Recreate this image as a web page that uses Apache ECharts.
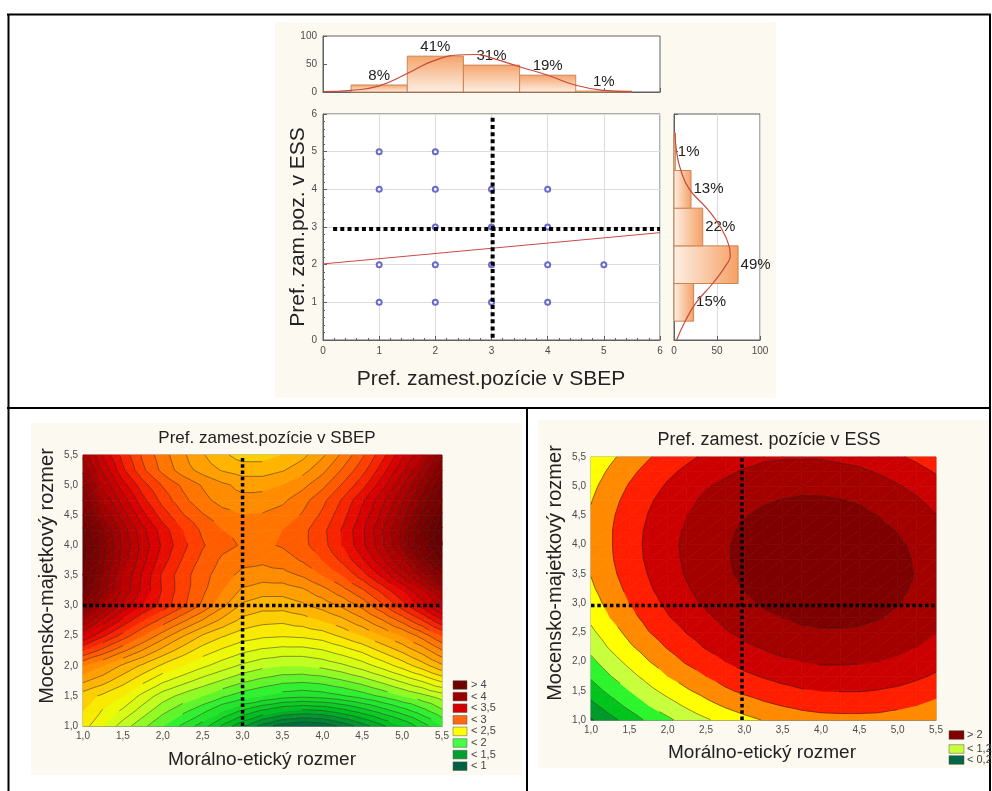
<!DOCTYPE html>
<html>
<head>
<meta charset="utf-8">
<title>Pref. zamest.pozície</title>
<script src="https://cdn.jsdelivr.net/npm/echarts@6/dist/echarts.min.js"></script>
<style>
    html, body { margin: 0; padding: 0; background: #fff; }
    #main { width: 992px; height: 791px; }
</style>
</head>
<body>
<div id="main"></div>
<script>
var FONT = "'Liberation Sans', Arial, sans-serif";

// --- top: SBEP vs ESS scatter with marginal histograms ---
var sbepValues = [1, 2, 3, 4, 5];
var sbepCounts = [12.5, 64, 48, 30, 1.6];
var sbepLabels = ['8%', '41%', '31%', '19%', '1%'];
var sbepCurveX = [0, 0.5, 1, 1.5, 2, 2.5, 2.75, 3, 3.5, 4, 4.5, 5, 5.5];
var sbepCurveY = [0.8, 3, 11, 33, 57, 66.5, 67, 61, 45, 30, 12, 3, 0.4];

var essValues = [1, 2, 3, 4, 5];
var essCounts = [22.8, 74.5, 33.4, 19.8, 1.5];
var essLabels = ['15%', '49%', '22%', '13%', '1%'];
var essCurveY = [0, 0.5, 1, 1.5, 2, 2.25, 2.5, 3, 3.5, 4, 4.5, 5, 5.5];
var essCurveX = [3, 13, 26, 45, 61, 65.5, 64, 54, 38, 18, 8, 3, 1];

var scatterPoints = [[1, 5], [2, 5], [1, 4], [2, 4], [3, 4], [4, 4], [2, 3], [3, 3], [4, 3],
    [1, 2], [2, 2], [3, 2], [4, 2], [5, 2], [1, 1], [2, 1], [3, 1], [4, 1]];
var fitLine = [[0, 2.02], [6, 2.85]];
var scatterCutV = [[3.02, 0.06], [3.02, 5.95]];
var scatterCutH = [[0.18, 2.95], [6, 2.95]];

// --- bottom: fitted surfaces, x = Morálno-etický, y = Mocensko-majetkový ---
var gridSteps = [1, 1.25, 1.5, 1.75, 2, 2.25, 2.5, 2.75, 3, 3.25, 3.5, 3.75, 4, 4.25, 4.5, 4.75, 5, 5.25, 5.5];

// rows go from y = 1.0 (first) to y = 5.5 (last)
var sbepSurface = [
    [2.35, 2.20, 2.05, 1.93, 1.80, 1.68, 1.55, 1.38, 1.22, 1.06, 0.95, 0.90, 0.93, 1.03, 1.15, 1.28, 1.40, 1.55, 1.70],
    [2.40, 2.29, 2.18, 2.05, 1.93, 1.83, 1.73, 1.60, 1.48, 1.38, 1.30, 1.27, 1.29, 1.36, 1.45, 1.55, 1.65, 1.76, 1.88],
    [2.45, 2.38, 2.30, 2.17, 2.05, 1.97, 1.90, 1.82, 1.75, 1.70, 1.65, 1.63, 1.65, 1.69, 1.75, 1.82, 1.90, 1.97, 2.05],
    [2.62, 2.54, 2.44, 2.33, 2.22, 2.14, 2.06, 1.99, 1.92, 1.87, 1.83, 1.82, 1.84, 1.89, 1.95, 2.03, 2.12, 2.21, 2.32],
    [2.80, 2.70, 2.58, 2.48, 2.38, 2.30, 2.22, 2.15, 2.08, 2.03, 2.00, 2.00, 2.03, 2.08, 2.15, 2.24, 2.34, 2.45, 2.58],
    [3.10, 2.96, 2.82, 2.69, 2.56, 2.45, 2.35, 2.28, 2.22, 2.18, 2.16, 2.16, 2.19, 2.25, 2.32, 2.42, 2.52, 2.64, 2.79],
    [3.40, 3.22, 3.06, 2.90, 2.75, 2.61, 2.49, 2.41, 2.35, 2.32, 2.31, 2.32, 2.35, 2.42, 2.50, 2.60, 2.70, 2.84, 3.00],
    [3.70, 3.46, 3.27, 3.10, 2.96, 2.82, 2.69, 2.57, 2.47, 2.43, 2.42, 2.45, 2.50, 2.57, 2.67, 2.79, 2.93, 3.09, 3.28],
    [4.00, 3.70, 3.47, 3.30, 3.16, 3.02, 2.88, 2.72, 2.58, 2.54, 2.54, 2.58, 2.64, 2.72, 2.83, 2.98, 3.15, 3.33, 3.55],
    [4.15, 3.85, 3.58, 3.37, 3.19, 3.04, 2.92, 2.80, 2.68, 2.64, 2.64, 2.68, 2.76, 2.86, 2.98, 3.13, 3.30, 3.50, 3.72],
    [4.20, 3.88, 3.60, 3.38, 3.18, 3.04, 2.94, 2.84, 2.77, 2.75, 2.76, 2.81, 2.90, 3.00, 3.15, 3.32, 3.52, 3.74, 4.00],
    [4.25, 3.93, 3.66, 3.43, 3.24, 3.09, 2.97, 2.88, 2.83, 2.82, 2.85, 2.91, 3.00, 3.12, 3.28, 3.47, 3.70, 3.95, 4.25],
    [4.25, 3.95, 3.68, 3.46, 3.28, 3.13, 3.01, 2.93, 2.89, 2.88, 2.91, 2.97, 3.06, 3.20, 3.37, 3.58, 3.82, 4.10, 4.40],
    [4.22, 3.92, 3.65, 3.43, 3.25, 3.10, 2.98, 2.90, 2.87, 2.87, 2.90, 2.97, 3.07, 3.21, 3.38, 3.59, 3.83, 4.12, 4.42],
    [4.10, 3.80, 3.55, 3.33, 3.15, 3.01, 2.91, 2.84, 2.80, 2.81, 2.84, 2.91, 3.02, 3.16, 3.33, 3.53, 3.75, 4.02, 4.32],
    [4.00, 3.70, 3.45, 3.23, 3.06, 2.93, 2.83, 2.76, 2.73, 2.74, 2.78, 2.86, 2.97, 3.11, 3.28, 3.47, 3.68, 3.93, 4.20],
    [3.88, 3.60, 3.34, 3.14, 2.99, 2.88, 2.79, 2.72, 2.67, 2.67, 2.70, 2.77, 2.87, 3.01, 3.16, 3.36, 3.58, 3.84, 4.12],
    [3.78, 3.48, 3.22, 3.02, 2.87, 2.75, 2.66, 2.59, 2.55, 2.55, 2.59, 2.66, 2.77, 2.91, 3.06, 3.25, 3.47, 3.72, 4.00],
    [3.68, 3.38, 3.16, 2.98, 2.84, 2.72, 2.61, 2.52, 2.46, 2.46, 2.50, 2.57, 2.68, 2.82, 2.98, 3.16, 3.37, 3.60, 3.88]
];

var essSurface = [
    [0.22, 0.42, 0.61, 0.80, 0.95, 1.10, 1.22, 1.34, 1.43, 1.51, 1.57, 1.63, 1.66, 1.67, 1.67, 1.66, 1.63, 1.58, 1.52],
    [0.43, 0.63, 0.82, 1.00, 1.15, 1.29, 1.42, 1.53, 1.62, 1.70, 1.76, 1.81, 1.84, 1.85, 1.85, 1.84, 1.80, 1.75, 1.68],
    [0.62, 0.82, 1.00, 1.18, 1.33, 1.47, 1.59, 1.71, 1.80, 1.87, 1.93, 1.98, 2.00, 2.01, 2.01, 1.99, 1.96, 1.90, 1.83],
    [0.79, 0.99, 1.17, 1.34, 1.50, 1.63, 1.75, 1.86, 1.95, 2.02, 2.08, 2.12, 2.15, 2.16, 2.15, 2.13, 2.09, 2.04, 1.97],
    [0.94, 1.14, 1.32, 1.49, 1.64, 1.78, 1.89, 2.00, 2.09, 2.16, 2.21, 2.25, 2.28, 2.28, 2.27, 2.25, 2.21, 2.15, 2.08],
    [1.08, 1.28, 1.46, 1.62, 1.77, 1.90, 2.02, 2.12, 2.21, 2.27, 2.33, 2.37, 2.39, 2.39, 2.38, 2.36, 2.31, 2.25, 2.18],
    [1.20, 1.39, 1.57, 1.74, 1.88, 2.01, 2.12, 2.23, 2.31, 2.37, 2.42, 2.46, 2.48, 2.48, 2.47, 2.44, 2.40, 2.33, 2.26],
    [1.30, 1.50, 1.67, 1.83, 1.98, 2.10, 2.21, 2.31, 2.39, 2.46, 2.50, 2.54, 2.55, 2.55, 2.54, 2.51, 2.46, 2.40, 2.32],
    [1.39, 1.58, 1.75, 1.91, 2.05, 2.18, 2.29, 2.38, 2.46, 2.52, 2.57, 2.60, 2.61, 2.61, 2.59, 2.56, 2.51, 2.44, 2.36],
    [1.46, 1.64, 1.81, 1.97, 2.11, 2.23, 2.34, 2.43, 2.51, 2.57, 2.61, 2.64, 2.65, 2.65, 2.63, 2.59, 2.54, 2.47, 2.39],
    [1.51, 1.69, 1.86, 2.01, 2.15, 2.27, 2.38, 2.47, 2.54, 2.60, 2.64, 2.67, 2.67, 2.67, 2.65, 2.61, 2.55, 2.49, 2.40],
    [1.54, 1.72, 1.89, 2.04, 2.17, 2.29, 2.40, 2.48, 2.55, 2.61, 2.65, 2.67, 2.68, 2.67, 2.65, 2.61, 2.55, 2.48, 2.39],
    [1.55, 1.73, 1.90, 2.05, 2.18, 2.30, 2.40, 2.48, 2.55, 2.60, 2.64, 2.66, 2.67, 2.66, 2.63, 2.59, 2.53, 2.46, 2.37],
    [1.55, 1.73, 1.89, 2.04, 2.17, 2.28, 2.38, 2.46, 2.53, 2.58, 2.62, 2.63, 2.64, 2.63, 2.60, 2.55, 2.49, 2.41, 2.32],
    [1.53, 1.71, 1.87, 2.01, 2.14, 2.25, 2.35, 2.43, 2.49, 2.54, 2.57, 2.59, 2.59, 2.58, 2.55, 2.50, 2.43, 2.36, 2.26],
    [1.49, 1.67, 1.83, 1.97, 2.09, 2.20, 2.30, 2.37, 2.44, 2.48, 2.51, 2.53, 2.53, 2.51, 2.48, 2.43, 2.36, 2.28, 2.18],
    [1.44, 1.61, 1.77, 1.90, 2.03, 2.14, 2.23, 2.30, 2.36, 2.41, 2.44, 2.45, 2.44, 2.42, 2.39, 2.34, 2.27, 2.19, 2.09],
    [1.37, 1.54, 1.69, 1.83, 1.95, 2.05, 2.14, 2.21, 2.27, 2.32, 2.34, 2.35, 2.34, 2.32, 2.29, 2.23, 2.16, 2.08, 1.98],
    [1.28, 1.45, 1.60, 1.73, 1.85, 1.95, 2.04, 2.11, 2.17, 2.21, 2.23, 2.23, 2.23, 2.20, 2.17, 2.11, 2.03, 1.95, 1.85]
];

// colour ramp of the left map (value -> colour), fine contour step 0.1
var sbepStops = [0.9, 1.35, 1.75, 2.05, 2.3, 2.55, 2.75, 2.9, 3.1, 3.3, 3.5, 3.75, 4.0, 4.4];
var sbepStopColors = ['#006040', '#00c020', '#30f030', '#c0ff20', '#f8f800', '#ffb400', '#ff8c00',
    '#ff6a00', '#ff3000', '#e00000', '#c00000', '#a00000', '#800000', '#600000'];
var sbepLegend = ['> 4', '< 4', '< 3,5', '< 3', '< 2,5', '< 2', '< 1,5', '< 1'];
var sbepLegendColors = ['#6e0000', '#990000', '#d40000', '#ff6a10', '#ffff00', '#44ff44', '#00a030', '#006040'];

var essLevels = [0.25, 0.5, 0.75, 1, 1.25, 1.5, 1.75, 2, 2.25, 2.5];
var essColors = ['#006646', '#009a2a', '#00c41c', '#2cf52c', '#c8ff3c', '#ffff00', '#ff8a00',
    '#ff1e00', '#cc0000', '#a30000', '#7f0000'];
var essLegend = ['> 2', '< 1,25', '< 0,25'];
var essLegendColors = ['#7f0000', '#c8ff3c', '#006646'];

var leftCutV = [[3.0, 1.0], [3.0, 5.5]];
var leftCutH = [[1.0, 3.0], [5.5, 3.0]];
var rightCutV = [[2.97, 1.0], [2.97, 5.5]];
var rightCutH = [[1.0, 2.96], [5.5, 2.96]];

function hexRgb(h) {
    return [parseInt(h.substr(1, 2), 16), parseInt(h.substr(3, 2), 16), parseInt(h.substr(5, 2), 16)];
}

function rampColor(v) {
    var n = sbepStops.length;
    if (v <= sbepStops[0]) return sbepStopColors[0];
    if (v >= sbepStops[n - 1]) return sbepStopColors[n - 1];
    for (var i = 1; i < n; i++) {
        if (v <= sbepStops[i]) {
            var t = (v - sbepStops[i - 1]) / (sbepStops[i] - sbepStops[i - 1]);
            var a = hexRgb(sbepStopColors[i - 1]), b = hexRgb(sbepStopColors[i]);
            return 'rgb(' + Math.round(a[0] + t * (b[0] - a[0])) + ',' + Math.round(a[1] + t * (b[1] - a[1])) +
                ',' + Math.round(a[2] + t * (b[2] - a[2])) + ')';
        }
    }
}

var sbepLevels = [];
for (var q = 9; q <= 44; q++) sbepLevels.push(q / 10);
var sbepBandColors = [];
for (var b = 0; b <= sbepLevels.length; b++) {
    var lo = b === 0 ? sbepLevels[0] - 0.1 : sbepLevels[b - 1];
    var hi = b === sbepLevels.length ? lo + 0.1 : sbepLevels[b];
    sbepBandColors.push(rampColor((lo + hi) / 2));
}

// one data item per grid cell: corners + four node values
function buildCells(rows) {
    var out = [];
    for (var j = 0; j < rows.length - 1; j++) {
        for (var i = 0; i < rows[j].length - 1; i++) {
            out.push([gridSteps[i], gridSteps[j], gridSteps[i + 1], gridSteps[j + 1],
                rows[j][i], rows[j][i + 1], rows[j + 1][i], rows[j + 1][i + 1]]);
        }
    }
    return out;
}

function clipPoly(poly, level, above) {
    var out = [];
    for (var i = 0; i < poly.length; i++) {
        var a = poly[i], c = poly[(i + 1) % poly.length];
        var ina = above ? a[2] >= level : a[2] <= level;
        var inc = above ? c[2] >= level : c[2] <= level;
        if (ina) out.push(a);
        if (ina !== inc) {
            var t = (level - a[2]) / (c[2] - a[2]);
            out.push([a[0] + t * (c[0] - a[0]), a[1] + t * (c[1] - a[1]), level]);
        }
    }
    return out;
}

// filled contour bands + contour lines, drawn per cell
function surfaceRenderer(levels, bandColors, lineStyle) {
    return function (params, api) {
        var x0 = api.value(0), y0 = api.value(1), x1 = api.value(2), y1 = api.value(3);
        var p00 = [x0, y0, api.value(4)], p10 = [x1, y0, api.value(5)];
        var p01 = [x0, y1, api.value(6)], p11 = [x1, y1, api.value(7)];
        var tris = [[p00, p10, p11], [p00, p11, p01]];
        var children = [];
        var toPx = function (p) { return api.coord([p[0], p[1]]); };
        tris.forEach(function (tri) {
            var vmin = Math.min(tri[0][2], tri[1][2], tri[2][2]);
            var vmax = Math.max(tri[0][2], tri[1][2], tri[2][2]);
            for (var k = 0; k <= levels.length; k++) {
                var lo = k === 0 ? -Infinity : levels[k - 1];
                var hi = k === levels.length ? Infinity : levels[k];
                if (hi < vmin || lo > vmax) continue;
                var poly = tri;
                if (k > 0) poly = clipPoly(poly, lo, true);
                if (poly.length >= 3 && k < levels.length) poly = clipPoly(poly, hi, false);
                if (poly.length < 3) continue;
                children.push({
                    type: 'polygon', silent: true,
                    shape: { points: poly.map(toPx) },
                    style: { fill: bandColors[k], stroke: bandColors[k], lineWidth: 0.7 }
                });
            }
            levels.forEach(function (lv) {
                if (lv <= vmin || lv >= vmax) return;
                var pts = [];
                for (var e = 0; e < 3; e++) {
                    var a = tri[e], c = tri[(e + 1) % 3];
                    if ((a[2] - lv) * (c[2] - lv) < 0) {
                        var t = (lv - a[2]) / (c[2] - a[2]);
                        pts.push([a[0] + t * (c[0] - a[0]), a[1] + t * (c[1] - a[1])]);
                    }
                }
                if (pts.length === 2) {
                    var s = toPx(pts[0]), f = toPx(pts[1]);
                    children.push({
                        type: 'line', silent: true, z2: 10,
                        shape: { x1: s[0], y1: s[1], x2: f[0], y2: f[1] },
                        style: lineStyle
                    });
                }
            });
        });
        return { type: 'group', children: children };
    };
}

function commaLabel(v) {
    return v.toFixed(1).replace('.', ',');
}

function renderTopBar(params, api) {
    var v = api.value(0), c = api.value(1);
    var a = api.coord([v - 0.5, c]);
    var d = api.coord([v + 0.5, 0]);
    return {
        type: 'rect',
        shape: { x: a[0], y: a[1], width: d[0] - a[0], height: d[1] - a[1] },
        style: {
            fill: new echarts.graphic.LinearGradient(0, 0, 0, 1, [
                { offset: 0, color: '#f5a46b' }, { offset: 1, color: '#fdf0e5' }
            ]),
            stroke: '#c98655', lineWidth: 1
        },
        textContent: { style: { text: sbepLabels[params.dataIndex], fontSize: 15, fontFamily: FONT, fill: '#222' } },
        textConfig: { position: 'top', distance: 1 }
    };
}

function renderSideBar(params, api) {
    var v = api.value(1), c = api.value(0);
    var a = api.coord([0, v + 0.5]);
    var d = api.coord([c, v - 0.5]);
    return {
        type: 'rect',
        shape: { x: a[0], y: a[1], width: d[0] - a[0], height: d[1] - a[1] },
        style: {
            fill: new echarts.graphic.LinearGradient(0, 0, 1, 0, [
                { offset: 0, color: '#fdf0e5' }, { offset: 1, color: '#f5a064' }
            ]),
            stroke: '#c98655', lineWidth: 1
        },
        textContent: { style: { text: essLabels[params.dataIndex], fontSize: 15, fontFamily: FONT, fill: '#222' } },
        textConfig: { position: 'right', distance: 2 }
    };
}

function cutLine(xi, yi, data, w) {
    return {
        type: 'line', xAxisIndex: xi, yAxisIndex: yi, data: data, symbol: 'none', silent: true, z: 5,
        lineStyle: { color: '#000', width: w, type: [w, w * 0.8], cap: 'butt' }
    };
}

var tickLabel = { fontSize: 10, color: '#4a4a4a', fontFamily: FONT };
var frameLine = { lineStyle: { color: '#606060' } };

function topAxis(gi, min, max, interval, labels, split) {
    return {
        type: 'value', gridIndex: gi, min: min, max: max, interval: interval,
        axisLine: frameLine,
        axisTick: { inside: true, length: 4, lineStyle: { color: '#606060' } },
        axisLabel: Object.assign({ show: labels, margin: 6 }, tickLabel),
        splitLine: { show: split, lineStyle: { color: '#dcdcdc' } }
    };
}

function contourAxis(gi, pos) {
    return {
        type: 'value', gridIndex: gi, min: 1, max: 5.5, interval: 0.5, position: pos,
        axisLine: { lineStyle: { color: '#888' } },
        axisTick: { show: false },
        axisLabel: Object.assign({ formatter: commaLabel, margin: 5 }, tickLabel),
        splitLine: { show: false }
    };
}

function textEl(x, y, text, size, rot) {
    return {
        type: 'text', x: x, y: y, rotation: rot || 0,
        style: { text: text, fontSize: size, fontFamily: FONT, fill: '#222', align: 'center', verticalAlign: 'middle' }
    };
}

var frame = { stroke: '#000', lineWidth: 2 };
var graphics = [
    { type: 'rect', shape: { x: 275, y: 22, width: 501, height: 376 }, style: { fill: '#fcf9f0' }, z: -10 },
    { type: 'rect', shape: { x: 31, y: 423, width: 491, height: 352 }, style: { fill: '#fcf9f0' }, z: -10 },
    { type: 'rect', shape: { x: 538, y: 420, width: 454, height: 348 }, style: { fill: '#fcf9f0' }, z: -10 },
    { type: 'line', shape: { x1: 7, y1: 14.5, x2: 991, y2: 14.5 }, style: frame },
    { type: 'line', shape: { x1: 7, y1: 408, x2: 991, y2: 408 }, style: frame },
    { type: 'line', shape: { x1: 8.5, y1: 14, x2: 8.5, y2: 791 }, style: frame },
    { type: 'line', shape: { x1: 990, y1: 14, x2: 990, y2: 791 }, style: frame },
    { type: 'line', shape: { x1: 527, y1: 408, x2: 527, y2: 791 }, style: frame },
    textEl(298, 227, 'Pref. zam.poz. v ESS', 21, Math.PI / 2),
    textEl(491, 379, 'Pref. zamest.pozície v SBEP', 21),
    textEl(267, 438, 'Pref. zamest.pozície v SBEP', 17),
    textEl(769, 440, 'Pref. zamest. pozície v ESS', 18),
    textEl(47, 576, 'Mocensko-majetkový rozmer', 20, Math.PI / 2),
    textEl(555, 573, 'Mocensko-majetkový rozmer', 20, Math.PI / 2),
    textEl(262, 760, 'Morálno-etický rozmer', 19),
    textEl(762, 753, 'Morálno-etický rozmer', 19)
];

for (var i = 0; i < sbepLegend.length; i++) {
    var cy = 685 + i * 11.6;
    graphics.push({ type: 'rect', shape: { x: 453, y: cy - 4.3, width: 14, height: 8.6 },
        style: { fill: sbepLegendColors[i], stroke: '#555', lineWidth: 0.5 } });
    graphics.push({ type: 'text', x: 471, y: cy,
        style: { text: sbepLegend[i], fontSize: 11, fontFamily: FONT, fill: '#444', verticalAlign: 'middle' } });
}
var essRows = [735, 749, 760];
for (var k = 0; k < essLegend.length; k++) {
    graphics.push({ type: 'rect', shape: { x: 949, y: essRows[k] - 4.3, width: 15, height: 8.6 },
        style: { fill: essLegendColors[k], stroke: '#555', lineWidth: 0.5 } });
    graphics.push({ type: 'text', x: 967, y: essRows[k],
        style: { text: essLegend[k], fontSize: 11, fontFamily: FONT, fill: '#444', verticalAlign: 'middle' } });
}

var option = {
    animation: false,
    backgroundColor: '#fff',
    textStyle: { fontFamily: FONT },
    grid: [
        { left: 323, top: 36, width: 337, height: 56, show: true, backgroundColor: '#fff', borderColor: '#606060' },
        { left: 323, top: 114, width: 337, height: 226, show: true, backgroundColor: '#fff', borderColor: '#606060' },
        { left: 674, top: 114, width: 86, height: 226, show: true, backgroundColor: '#fff', borderColor: '#606060' },
        { left: 83, top: 455, width: 359, height: 271, show: true, borderColor: '#888' },
        { left: 591, top: 457, width: 345, height: 263, show: true, borderColor: '#888' }
    ],
    xAxis: [
        topAxis(0, 0, 6, 1, false, false),
        Object.assign(topAxis(1, 0, 6, 1, true, true), { minorTick: { show: true, splitNumber: 5, length: 2 } }),
        topAxis(2, 0, 100, 50, true, true),
        contourAxis(3, 'bottom'),
        contourAxis(4, 'bottom')
    ],
    yAxis: [
        topAxis(0, 0, 100, 50, true, false),
        Object.assign(topAxis(1, 0, 6, 1, true, true), { minorTick: { show: true, splitNumber: 5, length: 2 } }),
        topAxis(2, 0, 6, 1, false, false),
        contourAxis(3, 'left'),
        contourAxis(4, 'left')
    ],
    series: [
        { type: 'custom', xAxisIndex: 0, yAxisIndex: 0, renderItem: renderTopBar,
            data: sbepValues.map(function (v, i) { return [v, sbepCounts[i]]; }) },
        { type: 'line', xAxisIndex: 0, yAxisIndex: 0, smooth: true, symbol: 'none', z: 4,
            lineStyle: { color: '#c84a3c', width: 1.2 },
            data: sbepCurveX.map(function (x, i) { return [x, sbepCurveY[i]]; }) },
        { type: 'scatter', xAxisIndex: 1, yAxisIndex: 1, symbol: 'emptyCircle', symbolSize: 5,
            itemStyle: { color: '#4646c0', borderWidth: 1 }, data: scatterPoints },
        { type: 'line', xAxisIndex: 1, yAxisIndex: 1, symbol: 'none', data: fitLine,
            lineStyle: { color: '#d04848', width: 1 } },
        cutLine(1, 1, scatterCutV, 4),
        cutLine(1, 1, scatterCutH, 4),
        { type: 'custom', xAxisIndex: 2, yAxisIndex: 2, renderItem: renderSideBar,
            data: essValues.map(function (v, i) { return [essCounts[i], v]; }) },
        { type: 'line', xAxisIndex: 2, yAxisIndex: 2, smooth: true, symbol: 'none', z: 4,
            lineStyle: { color: '#c84a3c', width: 1.2 },
            data: essCurveY.map(function (y, i) { return [essCurveX[i], y]; }) },
        { type: 'custom', xAxisIndex: 3, yAxisIndex: 3, silent: true,
            renderItem: surfaceRenderer(sbepLevels, sbepBandColors, { stroke: 'rgba(40,40,40,0.7)', lineWidth: 0.7 }),
            data: buildCells(sbepSurface) },
        cutLine(3, 3, leftCutV, 3.5),
        cutLine(3, 3, leftCutH, 3.5),
        { type: 'custom', xAxisIndex: 4, yAxisIndex: 4, silent: true,
            renderItem: surfaceRenderer(essLevels, essColors, { stroke: 'rgba(50,30,20,0.75)', lineWidth: 0.7 }),
            data: buildCells(essSurface) },
        cutLine(4, 4, rightCutV, 3.5),
        cutLine(4, 4, rightCutH, 3.5)
    ],
    graphic: { elements: graphics }
};

var chart = echarts.init(document.getElementById('main'));
chart.setOption(option);
</script>
</body>
</html>
